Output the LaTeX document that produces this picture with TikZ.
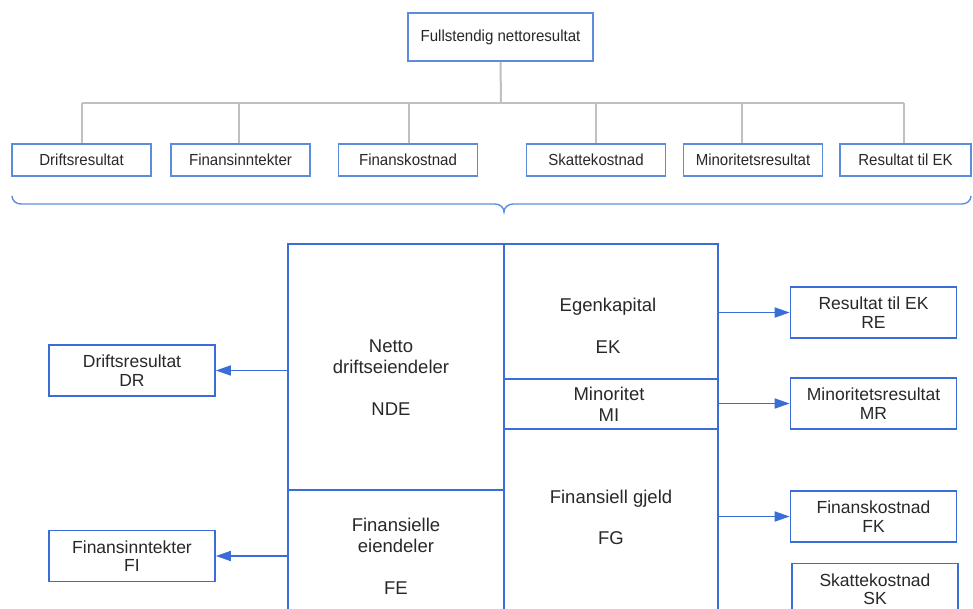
\documentclass[tikz,border=0pt]{standalone}
\usepackage{fontspec}
\setmainfont{Liberation Sans}
\newfontfamily\condfont[FakeStretch=0.94]{Liberation Sans}
\usetikzlibrary{arrows.meta}
\definecolor{boxblue}{RGB}{92,140,220}
\definecolor{lineblue}{RGB}{58,110,214}
\definecolor{busgray}{RGB}{192,192,192}
\definecolor{txt}{RGB}{40,40,40}
\begin{document}
\begin{tikzpicture}[x=1pt,y=-1pt,
  toprow/.style={draw=boxblue,line width=1.8pt,fill=white,inner sep=0pt,
    minimum width=139pt,minimum height=32pt,text=txt,
    font=\condfont\fontsize{16}{19}\selectfont},
  bus/.style={draw=busgray,line width=2pt},
  cell/.style={draw=lineblue,line width=1.6pt,inner sep=0pt},
  celltext/.style={align=center,text=txt,inner sep=0pt,
    font=\fontsize{18.5}{21}\selectfont},
  sidebox/.style={draw=lineblue,line width=1.6pt,fill=white,inner sep=0pt,
    minimum width=166pt,minimum height=51pt,align=center,text=txt,
    font=\fontsize{17.5}{18.5}\selectfont},
  arr/.style={draw=lineblue,line width=1.6pt,-{Triangle[length=15pt,width=10pt]}}]
\useasboundingbox (0,0) rectangle (973,609);
\clip (0,0) rectangle (973,609);

% --- result tree ---
\node[toprow,minimum width=185pt,minimum height=48pt] (full) at (500.5,37) {Fullstendig nettoresultat};

\node[toprow] (t1) at (81.5,160) {Driftsresultat};
\node[toprow] (t2) at (240.5,160) {Finansinntekter};
\node[toprow] (t3) at (408,160) {Finanskostnad};
\node[toprow] (t4) at (596,160) {Skattekostnad};
\node[toprow] (t5) at (753,160) {Minoritetsresultat};
\node[toprow,minimum width=131pt] (t6) at (905.5,160) {Resultat til EK};

\coordinate (hub) at (501,103);
\coordinate (b1) at (82,103);
\coordinate (b2) at (239,103);
\coordinate (b3) at (409,103);
\coordinate (b4) at (596,103);
\coordinate (b5) at (742,103);
\coordinate (b6) at (904,103);
\draw[bus] (full.south) -- (hub);
\draw[bus] (b1) -- (b6);
\draw[bus] (b1) -- (b1 |- t1.north);
\draw[bus] (b2) -- (b2 |- t2.north);
\draw[bus] (b3) -- (b3 |- t3.north);
\draw[bus] (b4) -- (b4 |- t4.north);
\draw[bus] (b5) -- (b5 |- t5.north);
\draw[bus] (b6) -- (b6 |- t6.north);

% brace under the row
\draw[draw=boxblue,line width=1.4pt]
  (12,196) to[out=-90,in=180] (21,204) -- (495,204)
  to[out=0,in=90] (504,212) to[out=90,in=180] (513,204) -- (962,204)
  to[out=0,in=-90] (971,196);

% --- balance sheet ---
\node[cell,minimum width=216pt,minimum height=246pt] (nde) at (396,367) {};
\node[cell,minimum width=216pt,minimum height=135pt] (fe) at (396,557.5) {};
\node[cell,minimum width=214pt,minimum height=135pt] (ek) at (611,311.5) {};
\node[cell,minimum width=214pt,minimum height=50pt] (mi) at (611,404) {};
\node[cell,minimum width=214pt,minimum height=196pt] (fg) at (611,527) {};

\node[celltext] at (391,378) {Netto\\driftseiendeler\\[21pt]NDE};
\node[celltext] at (396,556) {Finansielle\\eiendeler\\[21pt]FE};
\node[celltext] at (608,326) {Egenkapital\\[21pt]EK};
\node[celltext] at (609,404) {Minoritet\\MI};
\node[celltext] at (611,517) {Finansiell gjeld\\[20pt]FG};

% --- derived results ---
\node[sidebox] (dr) at (132,370.5) {Driftsresultat\\DR};
\node[sidebox] (fi) at (132,556) {Finansinntekter\\FI};
\node[sidebox] (re) at (873.5,312.5) {Resultat til EK\\RE};
\node[sidebox] (mr) at (873.5,403.5) {Minoritetsresultat\\MR};
\node[sidebox] (fk) at (873.5,516.5) {Finanskostnad\\FK};
\node[sidebox] (sk) at (875,589) {Skattekostnad\\SK};

\draw[arr] (dr.east -| nde.west) -- (dr.east);
\draw[arr] (fi.east -| fe.west) -- (fi.east);
\draw[arr] (re.west -| ek.east) -- (re.west);
\draw[arr] (mr.west -| mi.east) -- (mr.west);
\draw[arr] (fk.west -| fg.east) -- (fk.west);
\end{tikzpicture}
\end{document}
